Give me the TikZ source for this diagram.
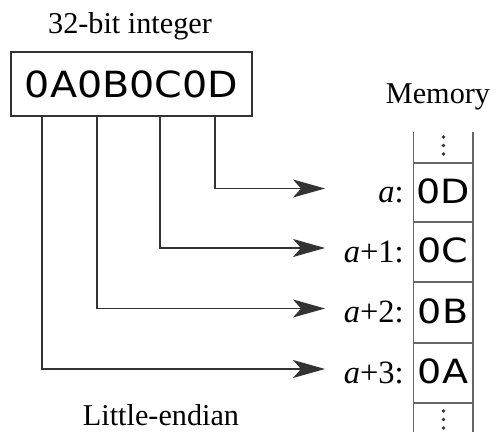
\documentclass[tikz,border=0pt]{standalone}
\usepackage{graphicx}
\usepackage{fontspec}
\setmainfont{Liberation Serif}
\newfontfamily\hexfont{DejaVu Sans}
\usetikzlibrary{arrows.meta}
\begin{document}
\begin{tikzpicture}[x=0.2mm, y=-0.2mm,
    wire/.style={draw=black!80, line width=0.8pt},
    conn/.style={wire, -{Stealth[length=6.4mm, width=3.6mm, inset=1.6mm]}},
    caption/.style={font=\fontsize{17.2}{20}\selectfont, inner sep=0pt},
    addr/.style={font=\fontsize{18.5}{22}\selectfont, inner sep=0pt},
    cell/.style={font=\hexfont\fontsize{19}{21}\selectfont, inner sep=0pt},
    memline/.style={draw=black!60, line width=0.6pt}]
    \useasboundingbox (0,0) rectangle (495,432);
    % the integer
    \node[caption, anchor=base] (title) at (130,33) {32-bit integer};
    \node[wire, minimum width=48.2mm, minimum height=12.8mm, inner sep=0pt,
          font=\hexfont\fontsize{20.5}{23}\selectfont] (word) at (131.5,84)
          {\scalebox{1.1}[1]{0A0B0C0D}};
    % memory column
    \node[caption, anchor=base] (mem) at (438,103) {Memory};
    \draw[memline] (413.5,132) -- (413.5,432) (473,132) -- (473,432);
    \foreach \y in {163,222,282,343,403}
        \draw[memline] (413.5,\y) -- (473,\y);
    \foreach \y in {137,145.5,154,411,419.5,428}
        \fill[black!80] (443.5,\y) circle[radius=0.36mm];
    % bytes and arrows
    \foreach \v/\lbl/\yc/\xs in {0D/{\textit{a}:}/192.5/215, 0C/{\textit{a}+1:}/252/160,
                                0B/{\textit{a}+2:}/312.5/97, 0A/{\textit{a}+3:}/373/42} {
        \node[cell, anchor=base] (cell\v) at (443,\yc+10.5) {\scalebox{1.14}[1]{\v}};
        \node[addr, anchor=base east] (addr\v) at (404,\yc+10) {\lbl};
        \coordinate (from\v) at (\xs,116);
        \coordinate (to\v) at (325,\yc-4);
        \draw[conn] (from\v) |- (to\v);
    }
    \node[caption, anchor=base] (order) at (161,425) {Little-endian};
\end{tikzpicture}
\end{document}
